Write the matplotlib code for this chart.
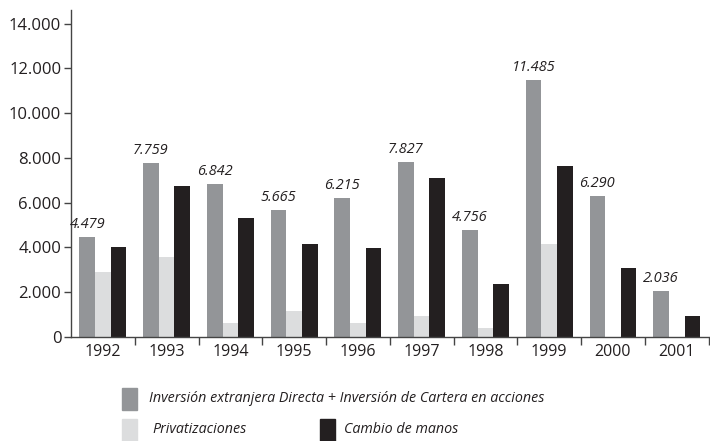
import numpy as np
import matplotlib.pyplot as plt
from matplotlib.patches import Rectangle

years = ['1992', '1993', '1994', '1995', '1996', '1997', '1998', '1999', '2000', '2001']
inversion = [4479, 7759, 6842, 5665, 6215, 7827, 4756, 11485, 6290, 2036]
privatizaciones = [2900, 3550, 600, 1150, 630, 930, 400, 4150, 0, 0]
cambio_manos = [4000, 6750, 5330, 4130, 3960, 7080, 2370, 7650, 3100, 930]
inversion_labels = ['4.479', '7.759', '6.842', '5.665', '6.215', '7.827', '4.756', '11.485', '6.290', '2.036']
yticks = [0, 2000, 4000, 6000, 8000, 10000, 12000, 14000]
ytick_labels = ['0', '2.000', '4.000', '6.000', '8.000', '10.000', '12.000', '14.000']

c_gray = '#939598'
c_light = '#dcddde'
c_dark = '#231f20'
txt = '#231f20'

plt.rcParams['font.family'] = ['Open Sans', 'DejaVu Sans']

fig = plt.figure(figsize=(7.1, 4.41), dpi=100)
ax = fig.add_axes([0.1, 0.236, 0.898, 0.741])

x = np.arange(len(years))
w = 0.245
ax.bar(x - w, inversion, w, color=c_gray)
ax.bar(x, privatizaciones, w, color=c_light)
ax.bar(x + w, cambio_manos, w, color=c_dark)

for xi, v, lab in zip(x, inversion, inversion_labels):
    ax.text(xi - w, v + 230, lab, ha='center', va='bottom', fontsize=10.5,
            style='italic', color=txt)

ax.set_xlim(-0.5, len(years) - 0.5)
ax.set_ylim(0, 14600)
ax.set_yticks(yticks)
ax.set_yticklabels(ytick_labels, fontsize=12, color=txt)
ax.set_xticks(x)
ax.set_xticklabels(years, fontsize=11.5, color=txt)
ax.set_xticks(np.arange(len(years)) + 0.5, minor=True)
ax.tick_params(axis='x', which='major', length=0, pad=5)
ax.tick_params(axis='x', which='minor', length=6, width=1, color='#444444', direction='out')
ax.tick_params(axis='y', length=5, width=1, color='#444444', pad=2)

for s in ['top', 'right']:
    ax.spines[s].set_visible(False)
for s in ['left', 'bottom']:
    ax.spines[s].set_color('#444444')
    ax.spines[s].set_linewidth(1)

# legend below the plot
def legend_item(x0, y0, color, label, dx):
    fig.add_artist(Rectangle((x0, y0), 15 / 710, 22 / 441, transform=fig.transFigure,
                             color=color, clip_on=False))
    fig.text(x0 + dx, y0 + 4 / 441, label, fontsize=10.3, style='italic', color=txt,
             va='bottom', ha='left')

legend_item(122 / 710, 1 - 410 / 441, c_gray,
            'Inversión extranjera Directa + Inversión de Cartera en acciones', 27 / 710)
legend_item(122 / 710, 1 - 441 / 441, c_light, 'Privatizaciones', 30 / 710)
legend_item(320 / 710, 1 - 441 / 441, c_dark, 'Cambio de manos', 24 / 710)

fig.savefig('out.png', dpi=100)
